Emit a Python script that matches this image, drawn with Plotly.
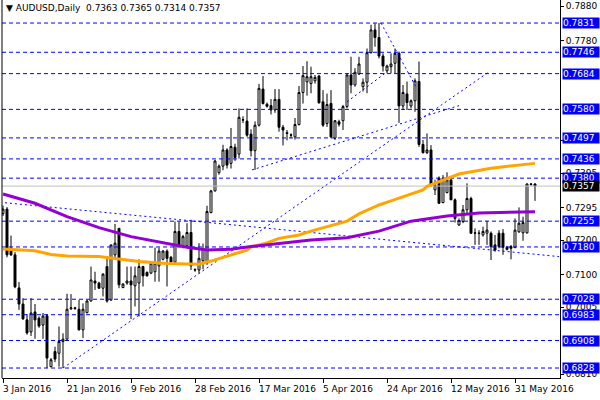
import plotly.graph_objects as go

# ---------------- data ----------------
bar_index = list(range(134))
opens = [0.7277,0.7290,0.7176,0.7157,0.7061,0.7014,0.6968,0.6933,0.6991,0.6973,
         0.6953,0.6980,0.6832,0.6876,0.6871,0.6905,0.6912,0.7000,0.7003,0.6999,
         0.6939,0.6989,0.7023,0.7081,0.7075,0.7060,0.7123,0.7026,0.7157,0.7234,
         0.7062,0.7075,0.7081,0.7067,0.7075,0.7123,0.7106,0.7104,0.7108,0.7125,
         0.7144,0.7168,0.7150,0.7136,0.7225,0.7183,0.7183,0.7222,0.7114,0.7113,
         0.7140,0.7133,0.7280,0.7343,0.7396,0.7415,0.7462,0.7423,0.7470,0.7450,
         0.7550,0.7546,0.7508,0.7460,0.7534,0.7639,0.7595,0.7591,0.7578,0.7609,
         0.7528,0.7512,0.7506,0.7500,0.7536,0.7629,0.7660,0.7655,0.7663,0.7677,
         0.7602,0.7539,0.7597,0.7496,0.7544,0.7547,0.7588,0.7680,0.7651,0.7683,
         0.7646,0.7659,0.7745,0.7811,0.7789,0.7735,0.7692,0.7704,0.7714,0.7743,
         0.7590,0.7625,0.7590,0.7605,0.7661,0.7478,0.7454,0.7462,0.7346,0.7380,
         0.7309,0.7338,0.7375,0.7317,0.7244,0.7254,0.7288,0.7321,0.7221,0.7219,
         0.7215,0.7220,0.7220,0.7186,0.7220,0.7220,0.7179,0.7181,0.7179,0.7224,
         0.7221,0.7221,0.7363,0.7363]
highs = [0.7300,0.7296,0.7213,0.7165,0.7078,0.7031,0.6985,0.7031,0.7014,0.6978,
         0.6988,0.6985,0.6857,0.6890,0.6949,0.6929,0.7044,0.7043,0.7006,0.7026,
         0.7016,0.7026,0.7123,0.7108,0.7079,0.7104,0.7147,0.7186,0.7247,0.7234,
         0.7075,0.7123,0.7123,0.7123,0.7144,0.7125,0.7109,0.7135,0.7178,0.7178,
         0.7171,0.7173,0.7154,0.7254,0.7254,0.7215,0.7249,0.7259,0.7118,0.7191,
         0.7190,0.7300,0.7346,0.7433,0.7420,0.7477,0.7467,0.7526,0.7480,0.7583,
         0.7560,0.7583,0.7522,0.7545,0.7654,0.7677,0.7600,0.7610,0.7639,0.7639,
         0.7535,0.7520,0.7510,0.7555,0.7648,0.7706,0.7720,0.7704,0.7680,0.7680,
         0.7636,0.7626,0.7636,0.7549,0.7550,0.7593,0.7685,0.7733,0.7700,0.7733,
         0.7670,0.7757,0.7826,0.7830,0.7831,0.7743,0.7710,0.7743,0.7757,0.7748,
         0.7651,0.7661,0.7609,0.7670,0.7719,0.7491,0.7510,0.7476,0.7375,0.7385,
         0.7389,0.7397,0.7380,0.7321,0.7263,0.7302,0.7365,0.7326,0.7234,0.7229,
         0.7239,0.7256,0.7225,0.7215,0.7229,0.7232,0.7183,0.7186,0.7263,0.7295,
         0.7268,0.7365,0.7366,0.7365]
lows = [0.7270,0.7150,0.7154,0.7060,0.6997,0.6968,0.6925,0.6921,0.6913,0.6945,
        0.6913,0.6828,0.6830,0.6845,0.6832,0.6828,0.6910,0.6997,0.6997,0.6937,
        0.6915,0.6987,0.7021,0.7055,0.7058,0.7036,0.7018,0.7023,0.7147,0.7060,
        0.7060,0.7070,0.6970,0.7007,0.6978,0.7065,0.7094,0.7101,0.7079,0.7079,
        0.7141,0.7065,0.7135,0.7135,0.7181,0.7176,0.7181,0.7113,0.7108,0.7103,
        0.7115,0.7128,0.7278,0.7341,0.7390,0.7403,0.7408,0.7408,0.7430,0.7437,
        0.7540,0.7500,0.7443,0.7404,0.7530,0.7594,0.7585,0.7565,0.7570,0.7515,
        0.7475,0.7490,0.7496,0.7492,0.7533,0.7597,0.7620,0.7627,0.7655,0.7597,
        0.7529,0.7529,0.7496,0.7491,0.7530,0.7520,0.7583,0.7627,0.7646,0.7680,
        0.7632,0.7627,0.7742,0.7762,0.7728,0.7690,0.7685,0.7685,0.7685,0.7541,
        0.7578,0.7578,0.7583,0.7573,0.7471,0.7452,0.7450,0.7355,0.7331,0.7305,
        0.7307,0.7336,0.7317,0.7251,0.7241,0.7249,0.7278,0.7218,0.7186,0.7186,
        0.7210,0.7186,0.7142,0.7166,0.7176,0.7157,0.7170,0.7144,0.7176,0.7221,
        0.7198,0.7219,0.7358,0.7314]
closes = [0.7290,0.7157,0.7157,0.7064,0.7014,0.6971,0.6930,0.6988,0.6968,0.6950,
          0.6979,0.6857,0.6852,0.6854,0.6905,0.6912,0.6999,0.7003,0.7001,0.6939,
          0.6999,0.7023,0.7084,0.7075,0.7060,0.7101,0.7023,0.7186,0.7191,0.7070,
          0.7072,0.7081,0.7070,0.7096,0.7123,0.7096,0.7096,0.7133,0.7133,0.7168,
          0.7168,0.7147,0.7136,0.7225,0.7183,0.7210,0.7222,0.7125,0.7113,0.7147,
          0.7175,0.7283,0.7343,0.7430,0.7415,0.7462,0.7418,0.7472,0.7440,0.7557,
          0.7549,0.7505,0.7460,0.7534,0.7641,0.7597,0.7589,0.7578,0.7609,0.7528,
          0.7520,0.7510,0.7505,0.7536,0.7629,0.7678,0.7675,0.7675,0.7673,0.7599,
          0.7534,0.7594,0.7500,0.7547,0.7537,0.7588,0.7680,0.7651,0.7688,0.7712,
          0.7659,0.7745,0.7811,0.7789,0.7735,0.7706,0.7706,0.7712,0.7743,0.7590,
          0.7629,0.7600,0.7605,0.7663,0.7478,0.7454,0.7462,0.7360,0.7360,0.7307,
          0.7380,0.7375,0.7317,0.7263,0.7257,0.7288,0.7321,0.7220,0.7220,0.7220,
          0.7225,0.7229,0.7181,0.7171,0.7181,0.7179,0.7173,0.7176,0.7229,0.7249,
          0.7251,0.7363,0.7362,0.7357]

# moving averages read at sample bars
ma_orange_x = [0, 8, 12, 16, 24, 28, 34, 41, 45, 49, 52, 57, 61, 62, 66, 69, 74, 77, 86, 89, 94, 97, 105, 106, 114, 122, 133]
ma_orange_y = [0.7174, 0.7169, 0.7158, 0.7154, 0.7152, 0.7147, 0.7138, 0.7132, 0.7130, 0.7130, 0.7139, 0.7157,
               0.7171, 0.7180, 0.7192, 0.7205, 0.7215, 0.7226, 0.7255, 0.7276, 0.7302, 0.7314, 0.7346, 0.7356,
               0.7392, 0.7409, 0.7423]
ma_purple_x = [0, 8, 16, 24, 32, 41, 46, 51, 57, 62, 69, 77, 86, 94, 102, 111, 119, 133]
ma_purple_y = [0.7334, 0.7307, 0.7268, 0.7236, 0.7210, 0.7189, 0.7179, 0.7171, 0.7173, 0.7181, 0.7189, 0.7200,
               0.7207, 0.7226, 0.7255, 0.7270, 0.7279, 0.7282]

# horizontal support/resistance levels and current price
levels = [0.7831, 0.7746, 0.7684, 0.7580, 0.7497, 0.7436, 0.7380, 0.7255, 0.7180, 0.7028, 0.6983, 0.6908, 0.6828]
last_price = 0.7357

# trendlines: (start bar, start price, end bar, end price)
trend_x0 = [15.0, 62.25, 86.0, 94.5, -0.75]
trend_y0 = [0.6828, 0.7404, 0.7602, 0.7831, 0.7310]
trend_x1 = [121.75, 114.0, 96.0, 103.5, 139.0]
trend_y1 = [0.7691, 0.7591, 0.7689, 0.7640, 0.7152]

# axis labels (price scale labels that peek out from behind the level boxes)
price_ticks = [0.7880, 0.7780, 0.7490, 0.7395, 0.7295, 0.7200, 0.7100, 0.7005, 0.6810]
date_pos = [0, 16, 32, 48, 64, 80, 96, 112, 128]
date_labels = ["3 Jan 2016", "21 Jan 2016", "9 Feb 2016", "28 Feb 2016", "17 Mar 2016",
               "5 Apr 2016", "24 Apr 2016", "12 May 2016", "31 May 2016"]
title_text = "\u25bc AUDUSD,Daily  0.7363 0.7365 0.7314 0.7357"

FONT = "DejaVu Sans"
BLUE = "#0000FF"
X_RANGE = [-0.25, 139.25]

fig = go.Figure()

# current price line and horizontal levels (drawn as traces spanning the x range)
fig.add_trace(go.Scatter(x=X_RANGE, y=[last_price, last_price], mode="lines",
                         line=dict(color="#C0C0C0", width=1), hoverinfo="skip", showlegend=False))
for lv in levels:
    fig.add_trace(go.Scatter(x=X_RANGE, y=[lv, lv], mode="lines",
                             line=dict(color=BLUE, width=1, dash="4px,3px"),
                             hoverinfo="skip", showlegend=False))

# trendlines
for x0, y0, x1, y1 in zip(trend_x0, trend_y0, trend_x1, trend_y1):
    fig.add_trace(go.Scatter(x=[x0, x1], y=[y0, y1], mode="lines",
                             line=dict(color=BLUE, width=1, dash="2px,3px"),
                             hoverinfo="skip", showlegend=False))

# candles
fig.add_trace(go.Candlestick(
    x=bar_index, open=opens, high=highs, low=lows, close=closes,
    increasing=dict(line=dict(color="black", width=1), fillcolor="white"),
    decreasing=dict(line=dict(color="black", width=1), fillcolor="black"),
    whiskerwidth=0, showlegend=False))

# moving averages
fig.add_trace(go.Scatter(x=ma_orange_x, y=ma_orange_y, mode="lines",
                         line=dict(color="#FFA500", width=3), showlegend=False, hoverinfo="skip"))
fig.add_trace(go.Scatter(x=ma_purple_x, y=ma_purple_y, mode="lines",
                         line=dict(color="#9400D3", width=3), showlegend=False, hoverinfo="skip"))

shapes = [dict(type="line", xref="paper", x0=0, x1=0, yref="paper", y0=0, y1=1,
               line=dict(color="black", width=1))]

annotations = []
for lv in levels:
    annotations.append(dict(xref="paper", x=1, xanchor="left", xshift=2, yref="y", y=lv,
                            yanchor="middle", text=f"{lv:.4f}", showarrow=False,
                            font=dict(family=FONT, size=9, color="white"),
                            bgcolor=BLUE, borderpad=0, width=36, height=10, align="left"))
annotations.append(dict(xref="paper", x=1, xanchor="left", xshift=2, yref="y", y=last_price,
                        yanchor="middle", text=f"{last_price:.4f}", showarrow=False,
                        font=dict(family=FONT, size=9, color="white"),
                        bgcolor="black", borderpad=0, width=36, height=10, align="left"))
for pos, lab in zip(date_pos, date_labels):
    annotations.append(dict(xref="x", x=pos, xanchor="left", xshift=-2, yref="paper", y=0,
                            yanchor="top", yshift=-4, text=lab, showarrow=False,
                            font=dict(family=FONT, size=9, color="black")))
annotations.append(dict(xref="paper", x=0, xanchor="left", xshift=2, yref="paper", y=1,
                        yanchor="top", yshift=-1, text=title_text, showarrow=False,
                        font=dict(family=FONT, size=9, color="black")))

fig.update_layout(
    width=600, height=400,
    margin=dict(l=2, r=40, t=0, b=22),
    paper_bgcolor="white", plot_bgcolor="white",
    showlegend=False,
    shapes=shapes, annotations=annotations,
    xaxis=dict(range=X_RANGE, rangeslider=dict(visible=False), showgrid=False, zeroline=False,
               showline=True, linecolor="black", linewidth=1, ticks="outside", ticklen=4,
               tickcolor="black", tickvals=date_pos, showticklabels=False),
    yaxis=dict(range=[0.6799, 0.7898], side="right", showgrid=False, zeroline=False,
               showline=True, linecolor="black", linewidth=1, ticks="outside", ticklen=3,
               tickcolor="black", tickvals=price_ticks, ticktext=[f"{t:.4f}" for t in price_ticks],
               tickfont=dict(family=FONT, size=9, color="black")),
)

fig.write_html("out.html")
